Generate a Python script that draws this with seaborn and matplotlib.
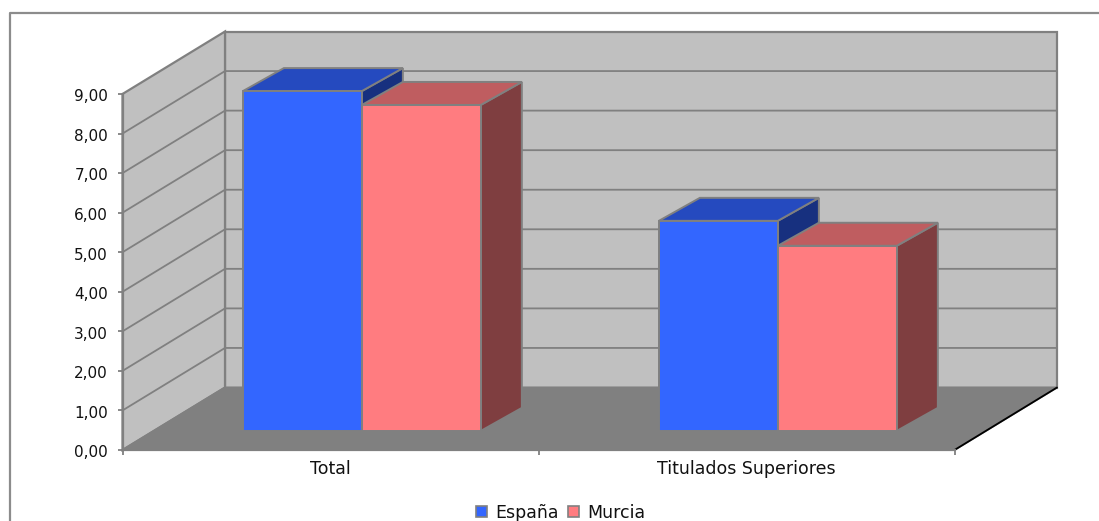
"""
Excel style 3D column chart (España / Murcia) drawn on a flat seaborn barplot.
The walls, floor and the bar sides are projected with a fixed depth vector.
"""

import matplotlib

matplotlib.use("Agg")

import matplotlib.pyplot as plt
import matplotlib.transforms as mtransforms
import pandas as pd
import seaborn as sns
from matplotlib.lines import Line2D
from matplotlib.patches import Patch, Polygon

categories = ["Total", "Titulados Superiores"]
series_names = ["España", "Murcia"]
espana_values = [8.59, 5.31]
murcia_values = [8.24, 4.68]
y_ticks = [0, 1, 2, 3, 4, 5, 6, 7, 8, 9]

FIG_W, FIG_H = 1099, 521
AX_LEFT, AX_RIGHT, AX_TOP, AX_BOTTOM = 122.5, 954.5, 94, 450

# depth of the box, in data units (x categories, y values)
WALL_DX = 102.5 / 416
WALL_DY = 62.5 / 39.56
# bars stand a bit behind the front plane and have their own depth
BAR_SHIFT = 0.306
BAR_DX = 41 / 416
BAR_DY = 23 / 39.56

EDGE = "#808080"
WALL = "#C0C0C0"
FLOOR = "#808080"
FRONT = {"España": "#3366FF", "Murcia": "#FF7C80"}
TOP = {"España": "#254ABF", "Murcia": "#BF5D60"}
SIDE = {"España": "#17307F", "Murcia": "#7F3E40"}
TEXT_COLOR = "#111111"

sns.set_style("white")
plt.rcParams["font.family"] = ["DejaVu Sans"]

df = pd.DataFrame(
    {
        "categoria": categories * 2,
        "serie": [series_names[0]] * 2 + [series_names[1]] * 2,
        "valor": espana_values + murcia_values,
    }
)

fig = plt.figure(figsize=(FIG_W / 100, FIG_H / 100), dpi=100)
fig.patch.set_facecolor("white")
ax = fig.add_axes(
    [
        AX_LEFT / FIG_W,
        1 - AX_BOTTOM / FIG_H,
        (AX_RIGHT - AX_LEFT) / FIG_W,
        (AX_BOTTOM - AX_TOP) / FIG_H,
    ]
)
ax.patch.set_visible(False)

sns.barplot(
    data=df,
    x="categoria",
    y="valor",
    hue="serie",
    hue_order=series_names,
    palette=FRONT,
    width=0.572,
    gap=0,
    saturation=1,
    legend=False,
    ax=ax,
)
ax.set_xlim(-0.5, 1.5)
ax.set_ylim(0, 9)

# keep the bars with their series before other patches get added
bars = []
for name, container in zip(series_names, ax.containers):
    bars.extend((bar, name) for bar in container)


def add_poly(points, color, zorder, edge=EDGE, lw=1.4):
    ax.add_patch(
        Polygon(
            points,
            closed=True,
            facecolor=color,
            edgecolor=edge,
            linewidth=lw,
            joinstyle="miter",
            clip_on=False,
            zorder=zorder,
        )
    )


# walls and floor
x0, x1 = ax.get_xlim()
vmax = y_ticks[-1]
add_poly(
    [(x0 + WALL_DX, WALL_DY), (x1 + WALL_DX, WALL_DY),
     (x1 + WALL_DX, vmax + WALL_DY), (x0 + WALL_DX, vmax + WALL_DY)],
    WALL, 0.2, lw=1.6,
)
add_poly(
    [(x0, 0), (x0 + WALL_DX, WALL_DY), (x0 + WALL_DX, vmax + WALL_DY), (x0, vmax)],
    WALL, 0.3, lw=1.6,
)
add_poly(
    [(x0, 0), (x0 + WALL_DX, WALL_DY), (x1 + WALL_DX, WALL_DY), (x1, 0)],
    FLOOR, 0.4,
)
ax.plot(
    [x1, x1 + WALL_DX], [0, WALL_DY],
    color="black", lw=1.3, clip_on=False, zorder=0.5,
)

# gridlines on the side wall and the back wall
for tick in y_ticks[1:-1]:
    ax.plot(
        [x0, x0 + WALL_DX, x1 + WALL_DX],
        [tick, tick + WALL_DY, tick + WALL_DY],
        color=EDGE, lw=1.3, clip_on=False, zorder=0.35,
    )

# draw left to right so the nearer bar covers the side of the previous one
for z, (bar, name) in enumerate(sorted(bars, key=lambda b: b[0].get_x())):
    base = 2 + z
    bar.set_x(bar.get_x() + BAR_SHIFT * WALL_DX)
    bar.set_y(BAR_SHIFT * WALL_DY)
    bar.set_edgecolor(EDGE)
    bar.set_linewidth(1.4)
    bar.set_clip_on(False)
    bar.set_zorder(base + 0.2)
    left, low = bar.get_x(), bar.get_y()
    right, high = left + bar.get_width(), low + bar.get_height()
    add_poly(
        [(right, low), (right + BAR_DX, low + BAR_DY),
         (right + BAR_DX, high + BAR_DY), (right, high)],
        SIDE[name], base,
    )
    add_poly(
        [(left, high), (left + BAR_DX, high + BAR_DY),
         (right + BAR_DX, high + BAR_DY), (right, high)],
        TOP[name], base + 0.1,
    )

# axes
ax.set_yticks(y_ticks)
ax.set_yticklabels([f"{t:.2f}".replace(".", ",") for t in y_ticks], fontsize=11, color=TEXT_COLOR)
ax.set_xticks([-0.5, 0.5, 1.5])
ax.set_xticklabels([])
ax.set_xticks([0, 1], labels=categories, minor=True, fontsize=12.5, color=TEXT_COLOR)
ax.tick_params(axis="x", which="major", length=3.6, width=1.3, color=EDGE, bottom=True)
ax.tick_params(axis="x", which="minor", length=0, pad=7.5, bottom=True)
ax.tick_params(axis="y", length=3.6, width=1.3, color=EDGE, left=True, pad=6.8)
ax.set_xlabel("")
ax.set_ylabel("")
for side in ["top", "right"]:
    ax.spines[side].set_visible(False)
for side in ["left", "bottom"]:
    ax.spines[side].set_color(EDGE)
    ax.spines[side].set_linewidth(1.6)
    ax.spines[side].set_zorder(1.5)

# the value labels sit a little below their ticks
nudge = mtransforms.ScaledTranslation(0, -1 / 72, fig.dpi_scale_trans)
for label in ax.get_yticklabels():
    label.set_transform(label.get_transform() + nudge)

# chart frame runs off the picture on the right and at the bottom
frame_x = 10 / FIG_W
frame_y = 1 - 12.5 / FIG_H
fig.add_artist(Line2D([frame_x, frame_x, 1], [0, frame_y, frame_y], color="#8C8C8C", lw=1.6))

handles = [
    Patch(facecolor=FRONT[name], edgecolor=EDGE, linewidth=1.2, label=name)
    for name in series_names
]
fig.legend(
    handles=handles,
    loc="center",
    bbox_to_anchor=(561 / FIG_W, 1 - 513 / FIG_H),
    ncol=2,
    frameon=False,
    fontsize=12.5,
    handlelength=0.6,
    handleheight=0.6,
    handletextpad=0.5,
    columnspacing=0.55,
    borderpad=0,
    labelcolor=TEXT_COLOR,
)

fig.savefig("out.png", dpi=100)
plt.close(fig)
